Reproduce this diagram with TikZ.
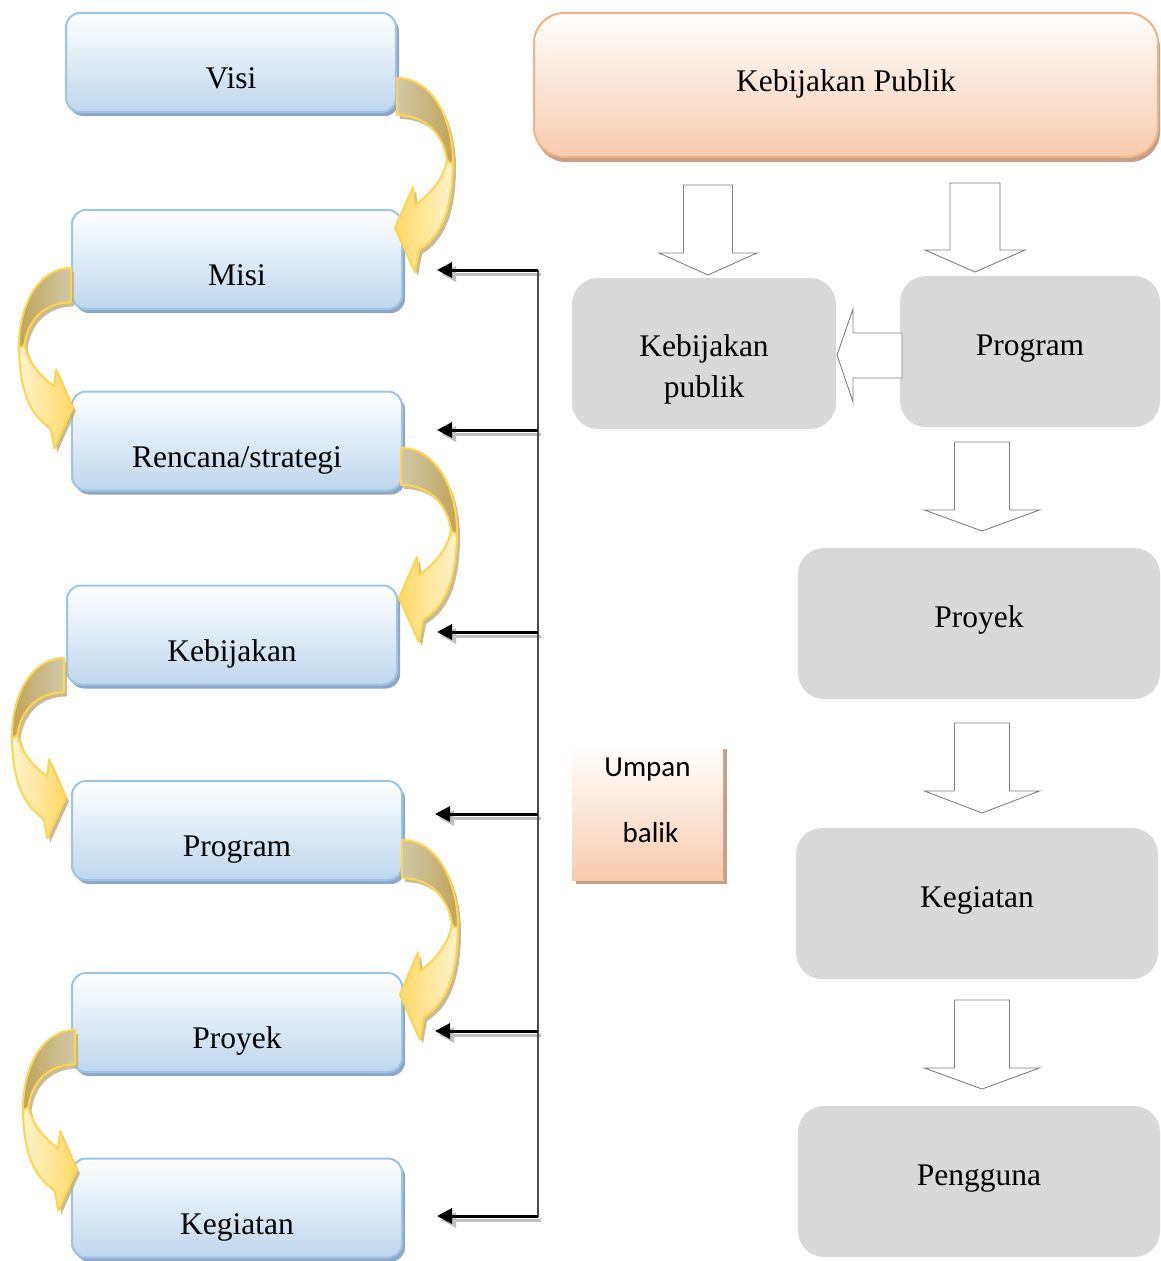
\documentclass[tikz,border=0pt]{standalone}
\usepackage{fontspec}
\usepackage{graphicx}
\setmainfont{Liberation Serif}
\newfontfamily\calibfont{Carlito}
\usetikzlibrary{shadows,arrows.meta}
\definecolor{bluebd}{HTML}{9DC3E6}
\definecolor{blueB}{HTML}{BDD7EE}
\definecolor{blueSh}{HTML}{8FA7C4}
\definecolor{peachbd}{HTML}{F4B183}
\definecolor{peachB}{HTML}{F8CBAD}
\definecolor{peachSh}{HTML}{C4A08A}
\definecolor{grayBox}{HTML}{D9D9D9}
\definecolor{tanL}{HTML}{D2C8A8}
\definecolor{tanD}{HTML}{C0A458}
\definecolor{goldS}{HTML}{FFD966}
\definecolor{goldP}{HTML}{FFF3CC}
\definecolor{goldBd}{HTML}{FFD54F}
\definecolor{arrSh}{HTML}{BFB082}
\definecolor{blockLine}{HTML}{808080}

\tikzset{
  bluebox/.style={rectangle, rounded corners=14pt, draw=bluebd, line width=2pt,
    top color=white, bottom color=blueB, minimum width=330pt, minimum height=99pt,
    text height=52pt, text depth=0pt, font=\fontsize{31.5}{36}\selectfont,
    drop shadow={shadow xshift=3pt, shadow yshift=-4pt, fill=blueSh, opacity=1}},
  headbox/.style={rectangle, rounded corners=30pt, draw=peachbd, line width=2pt,
    top color=white, bottom color=peachB, minimum width=624pt, minimum height=144pt,
    text height=24pt, text depth=12pt, font=\fontsize{31.5}{36}\selectfont,
    drop shadow={shadow xshift=2pt, shadow yshift=-5pt, fill=peachSh, opacity=1}},
  graybox/.style={rectangle, rounded corners=26pt, fill=grayBox, minimum height=151pt,
    text height=24pt, text depth=17pt, font=\fontsize{31.5}{41}\selectfont},
  umpanbox/.style={rectangle, top color=white, bottom color=peachB,
    minimum width=151pt, minimum height=135pt, text height=20pt, text depth=93pt,
    font=\calibfont\fontsize{29}{66}\selectfont,
    drop shadow={shadow xshift=4pt, shadow yshift=-4pt, fill=peachSh, opacity=1}},
  fbline/.style={draw=black!70, line width=1.2pt},
  fbarrow/.style={draw=black, line width=3pt, -{Triangle[length=15pt,width=15pt]}},
  fbshadow/.style={draw=black!25, line width=3pt, -{Triangle[length=15pt,width=15pt]}},
  blockarr/.style={draw=blockLine, fill=white, line width=0.9pt, line join=miter},
  curveline/.style={draw=goldBd, line width=2pt, line join=round},
}

% curved arrow: #1 x, #2 y, #3 xscale, #4 yscale, #5 tan shading, #6 light shading
\newcommand\curvarr[6]{%
\begin{scope}[shift={(#1,#2)}, xscale=#3, yscale=#4]
  \fill[arrSh, opacity=0.85, shift={({3/(#3)},{4/(#4)})}]
    (0,0) .. controls (35,0) and (56,40) .. (56,85)
    .. controls (56,130) and (45,158) .. (22,172) -- (18,194) -- (-2,150) -- (16,109) -- (18,127)
    .. controls (34,116) and (47,100) .. (50,82)
    .. controls (46,55) and (28,37) .. (0,37) -- cycle;
  \path[curveline, #6]
    (56,80) .. controls (56,130) and (45,158) .. (22,172) -- (18,194) -- (-2,150) -- (16,109) -- (18,127)
    .. controls (34,116) and (47,100) .. (50,82) -- cycle;
  \path[curveline, #5]
    (0,0) .. controls (35,0) and (56,40) .. (56,85)
    .. controls (53,86) and (51,84) .. (50,82)
    .. controls (46,55) and (28,37) .. (0,37) -- cycle;
\end{scope}}

\newcommand\blockdown[6]{% cx, shaft half, head half, top, base, tip
  \draw[blockarr] ({#1-#2},#4) -- ({#1+#2},#4) -- ({#1+#2},#5) -- ({#1+#3},#5)
    -- (#1,#6) -- ({#1-#3},#5) -- ({#1-#2},#5) -- cycle;}

\begin{document}
\begin{tikzpicture}[x=1pt,y=-1pt]
\useasboundingbox (0,0) rectangle (1161,1261);

% left column
\node[bluebox] (visi) at (231,62.5) {Visi};
\node[bluebox] (misi) at (237,259.5) {Misi};
\node[bluebox] (renc) at (237,441) {Rencana/strategi};
\node[bluebox] (kebij) at (232,635) {Kebijakan};
\node[bluebox] (prog) at (237,830.5) {Program};
\node[bluebox] (proy) at (237,1022.5) {Proyek};
\node[bluebox] (keg) at (237,1208) {Kegiatan};

% curved arrows
\curvarr{397}{78}{1}{1}{left color=tanL, right color=tanD}{left color=goldS, right color=goldP}
\curvarr{401}{448}{1}{1}{left color=tanL, right color=tanD}{left color=goldS, right color=goldP}
\curvarr{402}{840}{1}{1.03}{left color=tanL, right color=tanD}{left color=goldS, right color=goldP}
\curvarr{71}{268}{-0.93}{0.93}{left color=tanD, right color=tanL}{left color=goldP, right color=goldS}
\curvarr{64}{658}{-0.93}{0.93}{left color=tanD, right color=tanL}{left color=goldP, right color=goldS}
\curvarr{75}{1030}{-0.93}{0.93}{left color=tanD, right color=tanL}{left color=goldP, right color=goldS}

% feedback connector
\coordinate (fbTop) at (538,270);
\coordinate (fbBot) at (538,1217);
\coordinate (fb1) at (538,270);  \coordinate (t1) at (437,270);
\coordinate (fb2) at (538,430);  \coordinate (t2) at (437,430);
\coordinate (fb3) at (538,632);  \coordinate (t3) at (437,632);
\coordinate (fb4) at (538,814);  \coordinate (t4) at (435,814);
\coordinate (fb5) at (538,1031); \coordinate (t5) at (435,1031);
\coordinate (fb6) at (538,1216); \coordinate (t6) at (437,1216);
\foreach \i in {1,...,6}{
  \draw[fbshadow] ([shift={(3,4)}]fb\i) -- ([shift={(4,4)}]t\i);
}
\draw[fbline] (fbTop) -- (fbBot);
\foreach \i in {1,...,6}{
  \draw[fbarrow] (fb\i) -- (t\i);
}

% umpan balik
\node[umpanbox] (umpan) at (647.5,812.5) {\begin{tabular}[t]{@{}c@{}}Umpan\\\hspace{6pt}balik\end{tabular}};

% right column
\node[headbox] (head) at (846,85) {Kebijakan Publik};
\node[graybox, minimum width=264pt, text height=30pt, text depth=25pt] (kp) at (704,353.5)
  {\begin{tabular}[t]{@{}c@{}}Kebijakan\\publik\end{tabular}};
\node[graybox, minimum width=260pt] (gprog) at (1030,351.5) {Program};
\node[graybox, minimum width=362pt] (gproy) at (979,623.5) {Proyek};
\node[graybox, minimum width=362pt] (gkeg) at (977,903.5) {Kegiatan};
\node[graybox, minimum width=362pt] (gpeng) at (979,1181.5) {Pengguna};

% block arrows
\blockdown{708}{24.5}{49}{185}{253}{275}
\blockdown{975}{25}{50}{183}{250}{272}
\blockdown{982}{27.5}{57.5}{442}{510}{531}
\blockdown{982}{27.5}{57.5}{723}{791}{813}
\blockdown{982}{27.5}{57.5}{1000}{1068}{1089}
\draw[blockarr] (902,333) -- (853,333) -- (853,309) -- (837,355) -- (853,402) -- (853,378) -- (902,378) -- cycle;
\end{tikzpicture}
\end{document}
